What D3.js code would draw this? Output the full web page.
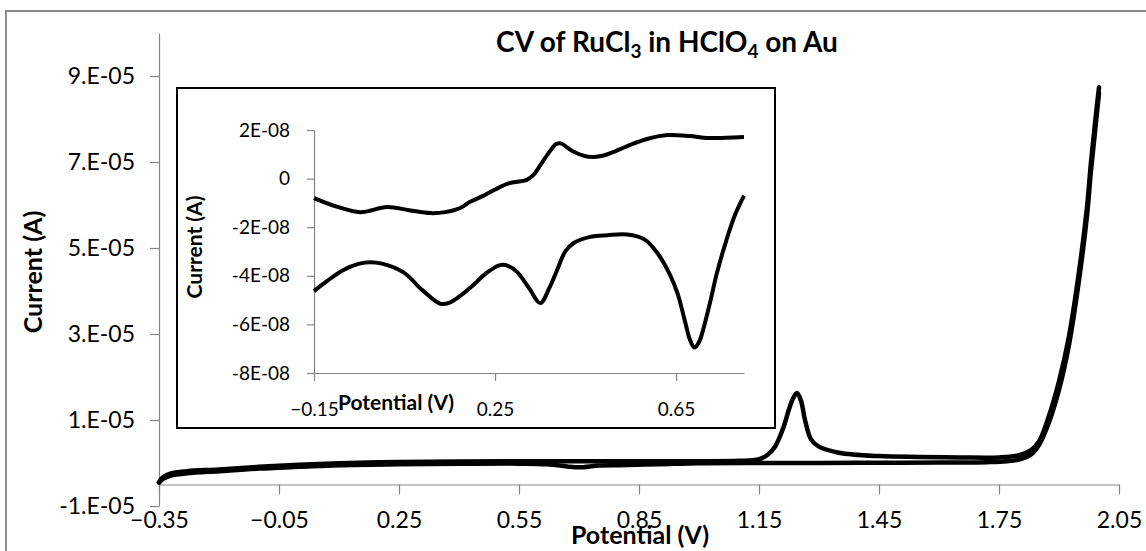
<!DOCTYPE html>
<html>
<head>
<meta charset="utf-8">
<script src="https://cdn.jsdelivr.net/npm/d3@7"></script>
<style>
body { margin: 0; background: #fff; }
svg { display: block; font-family: Lato, "Liberation Sans", sans-serif; }
</style>
</head>
<body>
<div id="root"></div>
<script>
// main CV, forward sweep (potential in V, current in A)
var fwdE = [-0.35, -0.34, -0.32, -0.28, -0.2, -0.1, 0.0, 0.1, 0.25, 0.4, 0.55, 0.7, 0.85, 1.0, 1.1,
	1.15, 1.17, 1.19, 1.21, 1.225, 1.235, 1.245, 1.255, 1.265, 1.28, 1.30, 1.35, 1.45, 1.55, 1.65,
	1.75, 1.80, 1.83, 1.85, 1.875, 1.90, 1.925, 1.95, 1.97, 1.98, 1.99, 2.0];
var fwdI = [-4.4e-6, -3.3e-6, -2.4e-6, -1.9e-6, -1.5e-6, -0.9e-6, -0.4e-6, -0.05e-6, 0.25e-6, 0.35e-6, 0.4e-6, 0.4e-6, 0.4e-6, 0.4e-6, 0.5e-6,
	0.9e-6, 1.8e-6, 3.8e-6, 8.0e-6, 1.25e-5, 1.5e-5, 1.63e-5, 1.45e-5, 1.0e-5, 5.5e-6, 3.8e-6, 2.4e-6, 1.6e-6, 1.4e-6, 1.3e-6,
	1.3e-6, 1.8e-6, 3.0e-6, 5.0e-6, 1.1e-5, 1.9e-5, 2.95e-5, 4.45e-5, 5.95e-5, 7.0e-5, 7.9e-5, 8.74e-5];

// main CV, reverse sweep
var revE = [2.0, 1.99, 1.98, 1.97, 1.95, 1.925, 1.90, 1.875, 1.85, 1.83, 1.80, 1.77, 1.72, 1.6, 1.45,
	1.3, 1.15, 1.0, 0.9, 0.8, 0.75, 0.7, 0.67, 0.62, 0.55, 0.4, 0.25, 0.1, 0.0, -0.1,
	-0.2, -0.28, -0.32, -0.34, -0.35];
var revI = [8.6e-5, 7.7e-5, 6.8e-5, 5.75e-5, 4.25e-5, 2.75e-5, 1.7e-5, 9.5e-6, 4.2e-6, 2.0e-6, 0.8e-6, 0.4e-6, 0.2e-6, 0.1e-6, 0.05e-6,
	0.0, 0.0, -0.05e-6, -0.3e-6, -0.5e-6, -0.6e-6, -1.0e-6, -0.8e-6, -0.3e-6, -0.15e-6, -0.2e-6, -0.3e-6, -0.5e-6, -0.9e-6, -1.3e-6,
	-1.9e-6, -2.4e-6, -2.9e-6, -3.7e-6, -4.6e-6];

// inset, anodic branch (upper)
var upE = [-0.15, -0.10, -0.048, 0.011, 0.06, 0.107, 0.14, 0.173, 0.195, 0.225, 0.25, 0.28, 0.32, 0.335, 0.35,
	0.37, 0.385, 0.395, 0.42, 0.45, 0.467, 0.49, 0.511, 0.55, 0.59, 0.631, 0.68, 0.719, 0.76, 0.80];
var upI = [-0.80e-8, -1.15e-8, -1.38e-8, -1.17e-8, -1.30e-8, -1.42e-8, -1.38e-8, -1.21e-8, -0.95e-8, -0.70e-8, -0.45e-8, -0.2e-8, -0.05e-8, 0.15e-8, 0.55e-8,
	1.1e-8, 1.42e-8, 1.45e-8, 1.15e-8, 0.92e-8, 0.89e-8, 0.95e-8, 1.09e-8, 1.40e-8, 1.65e-8, 1.79e-8, 1.75e-8, 1.67e-8, 1.68e-8, 1.71e-8];

// inset, cathodic branch (lower)
var downE = [-0.15, -0.12, -0.086, -0.05, -0.026, 0.0, 0.047, 0.09, 0.129, 0.15, 0.175, 0.202, 0.23, 0.261, 0.28,
	0.299, 0.325, 0.35, 0.37, 0.387, 0.405, 0.423, 0.46, 0.498, 0.542, 0.58, 0.609, 0.635, 0.653, 0.67,
	0.68, 0.69, 0.70, 0.71, 0.725, 0.74, 0.76, 0.78, 0.80];
var downI = [-4.63e-8, -4.2e-8, -3.77e-8, -3.5e-8, -3.44e-8, -3.5e-8, -3.85e-8, -4.6e-8, -5.15e-8, -5.1e-8, -4.8e-8, -4.38e-8, -3.9e-8, -3.56e-8, -3.6e-8,
	-3.85e-8, -4.5e-8, -5.12e-8, -4.5e-8, -3.77e-8, -3.0e-8, -2.66e-8, -2.4e-8, -2.33e-8, -2.3e-8, -2.5e-8, -3.07e-8, -3.9e-8, -4.71e-8, -5.9e-8,
	-6.6e-8, -6.95e-8, -6.75e-8, -6.2e-8, -5.1e-8, -3.9e-8, -2.6e-8, -1.5e-8, -0.7e-8];

// ticks
var mainXTicks = [-0.35, -0.05, 0.25, 0.55, 0.85, 1.15, 1.45, 1.75, 2.05];
var mainYTicks = [-1e-5, 1e-5, 3e-5, 5e-5, 7e-5, 9e-5];
var mainYLabels = ["-1.E-05", "1.E-05", "3.E-05", "5.E-05", "7.E-05", "9.E-05"];
var inXTicks = [-0.15, 0.25, 0.65];
var inYTicks = [-8e-8, -6e-8, -4e-8, -2e-8, 0, 2e-8];
var inYLabels = ["-8E-08", "-6E-08", "-4E-08", "-2E-08", "0", "2E-08"];

var W = 1146, H = 551;
var axisGray = "#868686";

var svg = d3.select("#root").append("svg").attr("width", W).attr("height", H);

// chart frame
svg.append("rect")
	.attr("x", 6).attr("y", 11)
	.attr("width", 1160).attr("height", 560)
	.attr("fill", "#fff").attr("stroke", "#8c8c8c").attr("stroke-width", 2);

// scales
var x = d3.scaleLinear().domain([-0.35, 2.05]).range([159, 1119]);
var y = d3.scaleLinear().domain([-1e-5, 1e-4]).range([506, 33]);

function styleAxis(g, size) {
	g.attr("font-family", null).attr("font-size", size);
	g.select(".domain").attr("stroke", axisGray).attr("stroke-width", 1.2);
	g.selectAll(".tick line").attr("stroke", axisGray).attr("stroke-width", 1.2);
	g.selectAll(".tick text").attr("fill", "#000");
}

svg.append("g")
	.attr("transform", "translate(159,0)")
	.call(d3.axisLeft(y).tickValues(mainYTicks).tickFormat((d, i) => mainYLabels[i])
		.tickSize(9).tickSizeOuter(0).tickPadding(15))
	.call(g => styleAxis(g, 23));

svg.append("g")
	.attr("transform", `translate(0,${y(-5e-6)})`)
	.call(d3.axisBottom(x).tickValues(mainXTicks).tickFormat(d3.format(".2f"))
		.tickSize(10).tickSizeOuter(0).tickPadding(17))
	.call(g => styleAxis(g, 23));

// main curve
var line = d3.line().curve(d3.curveCatmullRom.alpha(0.5));
var fwd = fwdE.map((e, i) => [x(e), y(fwdI[i])]);
var rev = revE.map((e, i) => [x(e), y(revI[i])]);
svg.append("path").attr("d", line(fwd))
	.attr("fill", "none").attr("stroke", "#000").attr("stroke-width", 4.5)
	.attr("stroke-linejoin", "round").attr("stroke-linecap", "round");
svg.append("path").attr("d", line(rev))
	.attr("fill", "none").attr("stroke", "#000").attr("stroke-width", 4.5)
	.attr("stroke-linejoin", "round").attr("stroke-linecap", "round");

// titles
var title = svg.append("text")
	.attr("x", 667).attr("y", 52)
	.attr("text-anchor", "middle")
	.attr("font-size", 28).attr("font-weight", "bold").attr("fill", "#000");
title.append("tspan").text("CV of RuCl");
title.append("tspan").attr("font-size", 19).attr("dy", 6).text("3");
title.append("tspan").attr("dy", -6).text(" in HClO");
title.append("tspan").attr("font-size", 19).attr("dy", 6).text("4");
title.append("tspan").attr("dy", -6).text(" on Au");

svg.append("text")
	.attr("x", 640).attr("y", 544)
	.attr("text-anchor", "middle")
	.attr("font-size", 25).attr("font-weight", "bold").attr("fill", "#000")
	.text("Potential (V)");

svg.append("text")
	.attr("transform", "translate(42,272) rotate(-90)")
	.attr("text-anchor", "middle")
	.attr("font-size", 25).attr("font-weight", "bold").attr("fill", "#000")
	.text("Current (A)");

// inset
svg.append("rect")
	.attr("x", 177).attr("y", 88)
	.attr("width", 598).attr("height", 340)
	.attr("fill", "#fff").attr("stroke", "#000").attr("stroke-width", 2);

var xi = d3.scaleLinear().domain([-0.15, 0.8]).range([314, 744]);
var yi = d3.scaleLinear().domain([-8e-8, 2e-8]).range([373, 130]);

svg.append("g")
	.attr("transform", "translate(314,0)")
	.call(d3.axisLeft(yi).tickValues(inYTicks).tickFormat((d, i) => inYLabels[i])
		.tickSize(7).tickSizeOuter(0).tickPadding(17))
	.call(g => styleAxis(g, 19));

svg.append("g")
	.attr("transform", "translate(0,373)")
	.call(d3.axisBottom(xi).tickValues(inXTicks).tickFormat(d3.format(".2f"))
		.tickSize(8).tickSizeOuter(0).tickPadding(22))
	.call(g => styleAxis(g, 19));

var up = upE.map((e, i) => [xi(e), yi(upI[i])]);
var down = downE.map((e, i) => [xi(e), yi(downI[i])]);
svg.append("path").attr("d", line(up))
	.attr("fill", "none").attr("stroke", "#000").attr("stroke-width", 4)
	.attr("stroke-linejoin", "round");
svg.append("path").attr("d", line(down))
	.attr("fill", "none").attr("stroke", "#000").attr("stroke-width", 4)
	.attr("stroke-linejoin", "round");

svg.append("text")
	.attr("x", 396).attr("y", 410)
	.attr("text-anchor", "middle")
	.attr("font-size", 21).attr("font-weight", "bold").attr("fill", "#000")
	.text("Potential (V)");

svg.append("text")
	.attr("transform", "translate(202,247) rotate(-90)")
	.attr("text-anchor", "middle")
	.attr("font-size", 21).attr("font-weight", "bold").attr("fill", "#000")
	.text("Current (A)");
</script>
</body>
</html>
